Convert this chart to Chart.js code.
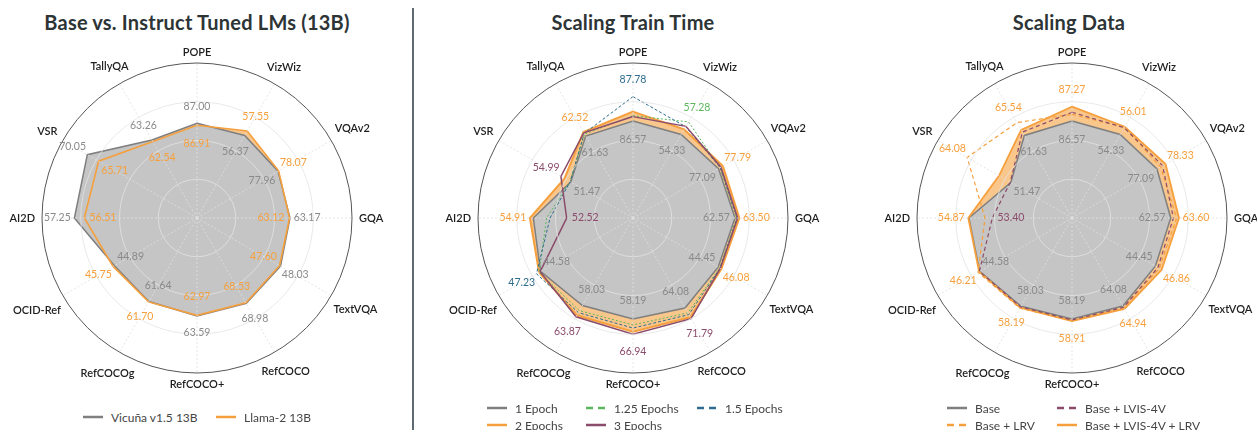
<!DOCTYPE html>
<html>
<head>
<meta charset="utf-8">
<script src="https://cdn.jsdelivr.net/npm/chart.js@4.4.1/dist/chart.umd.min.js"></script>
<style>
  html, body { margin: 0; padding: 0; background: #fff; }
  body { width: 1257px; height: 430px; position: relative; overflow: hidden; font-family: Lato, 'Open Sans', sans-serif; }
  .title { position: absolute; top: 9px; width: 420px; text-align: center; font-weight: 700; font-size: 20px; line-height: 26px; letter-spacing: 0.2px; color: #2d3436; }
  canvas { position: absolute; }
  .sep { position: absolute; left: 412px; top: 8px; width: 1.5px; height: 430px; background: #5f6b70; }
  .item { position: absolute; height: 16px; display: flex; align-items: center; white-space: nowrap; font-size: 12px; font-weight: 400; color: #454545; }
  .item svg { margin-right: 8px; }
</style>
</head>
<body>
<div class="title" id="t1"></div>
<div class="title" id="t2"></div>
<div class="title" id="t3"></div>
<canvas id="c1" width="440" height="380"></canvas>
<canvas id="c2" width="440" height="380"></canvas>
<canvas id="c3" width="440" height="380"></canvas>
<div class="sep"></div>
<script>
// benchmark axes, clockwise from the top
const axes = ['POPE', 'VizWiz', 'VQAv2', 'GQA', 'TextVQA', 'RefCOCO', 'RefCOCO+', 'RefCOCOg', 'OCID-Ref', 'AI2D', 'VSR', 'TallyQA'];

// panel 1 - normalised radius per axis (0..1 of the outer ring)
const lmTitle = 'Base vs. Instruct Tuned LMs (13B)';
const lmNames = ['Vicuña v1.5 13B', 'Llama-2 13B'];
const vicuna = [0.611, 0.615, 0.604, 0.600, 0.622, 0.636, 0.632, 0.622, 0.615, 0.791, 0.817, 0.581];
const llama2 = [0.598, 0.648, 0.608, 0.597, 0.615, 0.632, 0.628, 0.625, 0.625, 0.727, 0.733, 0.569];
const lmBest = [87.00, 57.55, 78.07, 63.17, 48.03, 68.98, 63.59, 61.70, 45.75, 57.25, 70.05, 63.26];
const lmLowest = [86.91, 56.37, 77.96, 63.12, 47.60, 68.53, 62.97, 61.64, 44.89, 56.51, 65.71, 62.54];

// panel 2
const epochTitle = 'Scaling Train Time';
const epochNames = ['1 Epoch', '1.25 Epochs', '1.5 Epochs', '2 Epochs', '3 Epochs'];
const epoch1 = [0.626, 0.622, 0.637, 0.658, 0.634, 0.671, 0.652, 0.652, 0.689, 0.643, 0.464, 0.610];
const epoch125 = [0.660, 0.716, 0.648, 0.668, 0.645, 0.707, 0.690, 0.690, 0.700, 0.557, 0.470, 0.625];
const epoch15 = [0.783, 0.680, 0.650, 0.672, 0.648, 0.720, 0.710, 0.705, 0.719, 0.535, 0.468, 0.630];
const epoch2 = [0.686, 0.660, 0.670, 0.686, 0.658, 0.740, 0.733, 0.725, 0.700, 0.665, 0.510, 0.640];
const epoch3 = [0.654, 0.683, 0.655, 0.675, 0.650, 0.750, 0.750, 0.736, 0.692, 0.428, 0.537, 0.635];
const epochBest = [87.78, 57.28, 77.79, 63.50, 46.08, 71.79, 66.94, 63.87, 47.23, 54.91, 54.99, 62.52];
const epochLowest = [86.57, 54.33, 77.09, 62.57, 44.45, 64.08, 58.19, 58.03, 44.58, 52.52, 51.47, 61.63];

// panel 3
const dataTitle = 'Scaling Data';
const dataNames = ['Base', 'Base + LVIS-4V', 'Base + LRV', 'Base + LVIS-4V + LRV'];
const base = [0.626, 0.622, 0.633, 0.637, 0.621, 0.656, 0.652, 0.658, 0.688, 0.665, 0.456, 0.615];
const lvis = [0.682, 0.673, 0.675, 0.654, 0.640, 0.665, 0.658, 0.662, 0.690, 0.514, 0.460, 0.640];
const lrv = [0.669, 0.675, 0.660, 0.675, 0.650, 0.668, 0.660, 0.672, 0.700, 0.561, 0.781, 0.711];
const lvisLrv = [0.718, 0.680, 0.697, 0.690, 0.668, 0.677, 0.665, 0.668, 0.692, 0.669, 0.544, 0.656];
const dataBest = [87.27, 56.01, 78.33, 63.60, 46.86, 64.94, 58.91, 58.19, 46.21, 54.87, 64.08, 65.54];
const dataLowest = [86.57, 54.33, 77.09, 62.57, 44.45, 64.08, 58.19, 58.03, 44.58, 53.40, 51.47, 61.63];

const GREY = '#7f7f7f', ORANGE = '#f6a03d', GREEN = '#5db65e', BLUE = '#2f6d8e', PURPLE = '#8b4b6b';
const GREY_FILL = '#c5c5c5', ORANGE_FILL = '#f9c68c';
const CLEAR = 'rgba(0,0,0,0)';

function lineSet(label, data, color, width, dash, order) {
  return { label, data, order, borderColor: color, borderWidth: width, borderDash: dash || [],
    backgroundColor: CLEAR, fill: false, pointRadius: 0, series: true, textColor: color };
}
function baseSet(label, data, order) {
  return { label, data, order, borderColor: GREY, borderWidth: 1.5, backgroundColor: GREY_FILL,
    fill: true, pointRadius: 0, series: true, textColor: '#8a8a8a' };
}
function fillSet(data, order) {
  return { label: '', data, order, borderColor: CLEAR, borderWidth: 0, backgroundColor: ORANGE_FILL,
    fill: true, pointRadius: 0, series: false };
}

// axis names and best / lowest value labels
const radarText = {
  id: 'radarText',
  afterDraw(chart, args, opts) {
    const r = chart.scales.r, ctx = chart.ctx;
    ctx.save();
    ctx.textAlign = 'center';
    ctx.textBaseline = 'middle';
    ctx.font = '600 11px Lato';
    ctx.fillStyle = '#1e1e1e';
    chart.data.labels.forEach((lab, i) => {
      const a = r.getIndexAngle(i);
      const w = ctx.measureText(lab).width;
      const ext = (Math.abs(Math.sin(a)) * w + Math.abs(Math.cos(a)) * 8) / 2;
      const p = r.getPointPosition(i, r.drawingArea + 7 + ext);
      ctx.fillText(lab, p.x, p.y);
    });
    const sets = chart.data.datasets.filter(d => d.series);
    ctx.font = '10.5px Lato';
    chart.data.labels.forEach((lab, i) => {
      let hi = sets[0], lo = sets[0];
      sets.forEach(d => {
        if (d.data[i] > hi.data[i]) hi = d;
        if (d.data[i] < lo.data[i]) lo = d;
      });
      const ph = r.getPointPositionForValue(i, hi.data[i] + 0.11);
      ctx.fillStyle = hi.textColor;
      ctx.fillText(opts.best[i].toFixed(2), ph.x, ph.y);
      const pl = r.getPointPositionForValue(i, lo.data[i] - 0.12);
      ctx.fillStyle = lo.textColor;
      ctx.fillText(opts.lowest[i].toFixed(2), pl.x, pl.y);
    });
    ctx.restore();
  }
};

function makeChart(id, centerX, datasets, best, lowest) {
  const cv = document.getElementById(id);
  cv.style.left = (centerX - 220) + 'px';
  cv.style.top = (218 - 190) + 'px';
  return new Chart(cv, {
    type: 'radar',
    data: { labels: axes, datasets },
    options: {
      responsive: false,
      animation: false,
      layout: { padding: { top: 35, bottom: 35, left: 65, right: 65 } },
      elements: { line: { tension: 0 } },
      plugins: { legend: { display: false }, tooltip: { enabled: false }, radarText: { best, lowest } },
      scales: {
        r: {
          min: 0,
          max: 1,
          ticks: { display: false, stepSize: 0.25 },
          pointLabels: { display: false },
          grid: {
            z: 1,
            circular: true,
            color: ctx => ctx.tick && ctx.tick.value === 1 ? '#555' : '#e3e3e3',
            lineWidth: ctx => ctx.tick && ctx.tick.value === 1 ? 1 : 0.8
          },
          angleLines: { color: '#e0e0e0', lineWidth: 0.8, borderDash: [2, 2] }
        }
      }
    },
    plugins: [radarText]
  });
}

makeChart('c1', 197, [
  lineSet(lmNames[1], llama2, ORANGE, 1.6, null, 0),
  baseSet(lmNames[0], vicuna, 1),
  fillSet(llama2, 2)
], lmBest, lmLowest);

makeChart('c2', 633, [
  lineSet(epochNames[4], epoch3, PURPLE, 1.5, null, 0),
  lineSet(epochNames[2], epoch15, BLUE, 1, [3, 2], 1),
  lineSet(epochNames[1], epoch125, GREEN, 1, [2, 2], 2),
  lineSet(epochNames[3], epoch2, ORANGE, 2, null, 3),
  baseSet(epochNames[0], epoch1, 4),
  fillSet(epoch2, 5)
], epochBest, epochLowest);

makeChart('c3', 1072, [
  lineSet(dataNames[1], lvis, PURPLE, 1.2, [4, 3], 0),
  lineSet(dataNames[2], lrv, ORANGE, 1.2, [4, 3], 1),
  lineSet(dataNames[3], lvisLrv, ORANGE, 1.8, null, 2),
  baseSet(dataNames[0], base, 3),
  fillSet(lvisLrv, 4)
], dataBest, dataLowest);

// titles
[['t1', lmTitle, 197], ['t2', epochTitle, 633], ['t3', dataTitle, 1069]].forEach(([id, text, cx]) => {
  const el = document.getElementById(id);
  el.textContent = text;
  el.style.left = (cx - 210) + 'px';
});

// legends
function legendItem(x, y, name, color, dash) {
  const el = document.createElement('div');
  el.className = 'item';
  el.style.left = x + 'px';
  el.style.top = (y - 8) + 'px';
  el.innerHTML = '<svg width="20" height="6"><line x1="0" y1="3" x2="20" y2="3" stroke="' + color +
    '" stroke-width="2.5"' + (dash ? ' stroke-dasharray="' + dash + '"' : '') + '/></svg>';
  const t = document.createElement('span');
  t.textContent = name;
  el.appendChild(t);
  document.body.appendChild(el);
}
legendItem(83, 417, lmNames[0], GREY);
legendItem(216, 417, lmNames[1], ORANGE);

legendItem(487, 408, epochNames[0], GREY);
legendItem(586, 408, epochNames[1], GREEN, '7 5');
legendItem(697, 408, epochNames[2], BLUE, '7 5');
legendItem(487, 425, epochNames[3], ORANGE);
legendItem(586, 425, epochNames[4], PURPLE);

legendItem(947, 408, dataNames[0], GREY);
legendItem(1057, 408, dataNames[1], PURPLE, '7 5');
legendItem(947, 425, dataNames[2], ORANGE, '7 5');
legendItem(1057, 425, dataNames[3], ORANGE);
</script>
</body>
</html>
